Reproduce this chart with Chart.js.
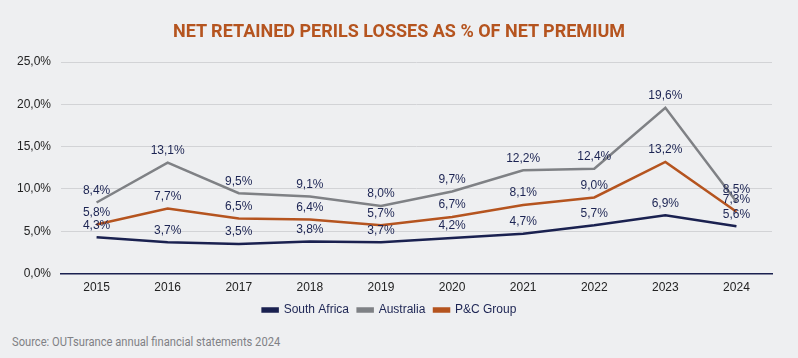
<!DOCTYPE html>
<html>
<head>
<meta charset="utf-8">
<script src="https://cdn.jsdelivr.net/npm/chart.js@4.4.1/dist/chart.umd.min.js"></script>
<style>
  html, body { margin: 0; padding: 0; background: #eeeff1; }
  #wrap { position: relative; width: 798px; height: 358px; overflow: hidden; background: #eeeff1; }
  #title { position: absolute; left: 0; top: 20px; width: 798px; text-align: center;
           font-family: Roboto, "Liberation Sans", sans-serif; font-weight: 700; font-size: 18px;
           color: #b5541f; line-height: 22px; white-space: nowrap; }
  #source { position: absolute; left: 12px; top: 334px; font-family: Roboto, "Liberation Sans", sans-serif;
            font-size: 12px; color: #808185; white-space: nowrap; line-height: 16px; }
  #source span { display: inline-block; transform: scaleX(0.93); transform-origin: left; }
  #cv { position: absolute; left: 0; top: 0; }
</style>
</head>
<body>
<div id="wrap">
  <canvas id="cv" width="798" height="332"></canvas>
  <div id="title">NET RETAINED PERILS LOSSES AS % OF NET PREMIUM</div>
  <div id="source"><span>Source: OUTsurance annual financial statements 2024</span></div>
</div>
<script>
const categories = ["2015","2016","2017","2018","2019","2020","2021","2022","2023","2024"];
const southAfrica = [4.3, 3.7, 3.5, 3.8, 3.7, 4.2, 4.7, 5.7, 6.9, 5.6];
const australia   = [8.4, 13.1, 9.5, 9.1, 8.0, 9.7, 12.2, 12.4, 19.6, 8.5];
const pcGroup     = [5.8, 7.7, 6.5, 6.4, 5.7, 6.7, 8.1, 9.0, 13.2, 7.3];
const seriesNames = ["South Africa", "Australia", "P&C Group"];

const fmt = v => v.toFixed(1).replace('.', ',') + '%';

const labelPlugin = {
  id: 'pointLabels',
  afterDatasetsDraw(chart) {
    const ctx = chart.ctx;
    ctx.save();
    ctx.font = '12px "Liberation Sans", Arial, sans-serif';
    ctx.fillStyle = '#1c2453';
    ctx.textAlign = 'center';
    ctx.textBaseline = 'middle';
    chart.data.datasets.forEach((ds, i) => {
      const meta = chart.getDatasetMeta(i);
      meta.data.forEach((pt, j) => {
        ctx.fillText(fmt(ds.data[j]), pt.x, pt.y - 12);
      });
    });
    ctx.restore();
  }
};

new Chart(document.getElementById('cv'), {
  type: 'line',
  data: {
    labels: categories,
    datasets: [
      { label: seriesNames[0], data: southAfrica, borderColor: '#1a2150', backgroundColor: '#1a2150', borderWidth: 2.5, pointRadius: 0, tension: 0 },
      { label: seriesNames[1], data: australia, borderColor: '#7f8185', backgroundColor: '#7f8185', borderWidth: 2.5, pointRadius: 0, tension: 0 },
      { label: seriesNames[2], data: pcGroup, borderColor: '#b5541f', backgroundColor: '#b5541f', borderWidth: 2.5, pointRadius: 0, tension: 0 }
    ]
  },
  options: {
    responsive: false,
    animation: false,
    devicePixelRatio: 1,
    layout: { padding: { top: 62, left: 7, right: 26, bottom: 6 } },
    plugins: {
      title: { display: false },
      tooltip: { enabled: false },
      legend: {
        position: 'bottom',
        labels: {
          boxWidth: 15, boxHeight: 3, padding: 2,
          color: '#1c2453',
          font: { family: '"Liberation Sans", Arial, sans-serif', size: 12 },
          generateLabels(chart) {
            const items = Chart.defaults.plugins.legend.labels.generateLabels(chart);
            items.forEach((it, i) => { if (i < items.length - 1) it.text = it.text + '  '; });
            return items;
          }
        }
      }
    },
    scales: {
      x: {
        offset: true,
        grid: { display: false, drawTicks: false },
        border: { display: true, color: '#1a2150', width: 1.5 },
        ticks: { color: '#222222', padding: 7, font: { family: '"Liberation Sans", Arial, sans-serif', size: 12 } }
      },
      y: {
        min: 0, max: 25,
        ticks: { stepSize: 5, color: '#222222', padding: 10, callback: v => fmt(v),
                 font: { family: '"Liberation Sans", Arial, sans-serif', size: 12 } },
        grid: { color: '#d2d3d6', lineWidth: 1, drawTicks: false },
        border: { display: false }
      }
    }
  },
  plugins: [labelPlugin]
});
</script>
</body>
</html>
